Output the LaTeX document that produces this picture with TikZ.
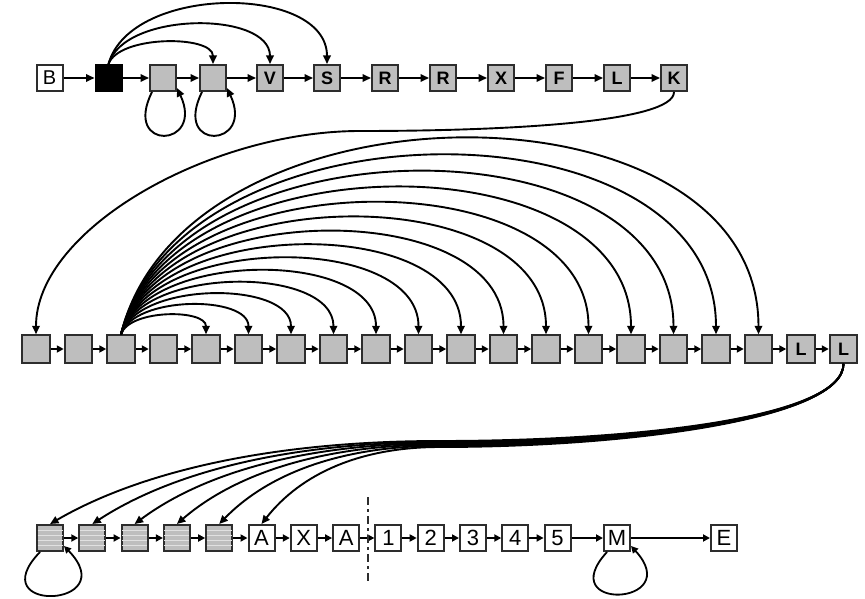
\documentclass[tikz,border=0pt]{standalone}
\usepackage{fontspec}
\setmainfont{Liberation Sans}
\usetikzlibrary{arrows.meta,calc}
\definecolor{boxgray}{RGB}{190,190,190}
\definecolor{edgecol}{RGB}{45,45,45}
\definecolor{stripecol}{RGB}{225,225,225}
\begin{document}
\begin{tikzpicture}[x=1pt,y=-1pt,
  box/.style={draw=edgecol, line width=2pt, minimum width=26pt, minimum height=26pt, inner sep=0pt},
  gbox/.style={box, fill=boxgray},
  wbox/.style={box, fill=white},
  bbox/.style={box, fill=black, draw=black},
  topfont/.style={font=\fontsize{18}{18}\selectfont\bfseries},
  botfont/.style={font=\fontsize{22}{22}\selectfont},
  arr/.style={-{Triangle[length=8.5pt,width=7.5pt]}, line width=1.9pt, draw=black},
  sarr/.style={-{Triangle[length=7pt,width=7pt]}, line width=1.8pt, draw=black},
  stripe/.style={draw=stripecol, line width=0.9pt}
]
\useasboundingbox (0,0) rectangle (865,599);

% ---------- Row 1 ----------
\node[wbox, font=\fontsize{20}{20}\selectfont] (b1) at (49.5,78) {B};
\node[bbox] (b2) at (108.5,78) {};
\node[gbox] (b3) at (163,78) {};
\node[gbox] (b4) at (213,78) {};
\node[gbox, topfont] (b5) at (270,78) {V};
\node[gbox, topfont] (b6) at (327,78) {S};
\node[gbox, topfont] (b7) at (385,78) {R};
\node[gbox, topfont] (b8) at (443,78) {R};
\node[gbox, topfont] (b9) at (501,78) {X};
\node[gbox, topfont] (b10) at (559,78) {F};
\node[gbox, topfont] (b11) at (617,78) {L};
\node[gbox, topfont] (b12) at (674,78) {K};

\foreach \i [evaluate=\i as \j using int(\i+1)] in {1,...,11}
  \draw[arr] (b\i) -- (b\j);

% arcs from the black box
\draw[arr] (b2.north) .. controls +(10.5,-29) and +(0,-29) .. (b4.north);
\draw[arr] (b2.north) .. controls +(16,-53) and +(0,-53) .. (b5.north);
\draw[arr] (b2.north) .. controls +(22,-80) and +(0,-80) .. (b6.north);

% self loops row 1
\draw[arr] ($(b3.south west)+(3,0)$) .. controls +(-30,60) and +(28,60) .. ($(b3.south east)+(0,-4)$);
\draw[arr] ($(b4.south west)+(3,0)$) .. controls +(-30,60) and +(28,60) .. ($(b4.south east)+(0,-4)$);

% ---------- Row 2 ----------
\foreach \i in {0,...,17}
  \node[gbox, minimum width=27.5pt, minimum height=27.5pt] (n\i) at ({36+42.5*\i},349) {};
\node[gbox, topfont, minimum width=27.5pt, minimum height=27.5pt] (n18) at ({36+42.5*18},349) {L};
\node[gbox, topfont, minimum width=27.5pt, minimum height=27.5pt] (n19) at ({36+42.5*19},349) {L};

\foreach \i [evaluate=\i as \j using int(\i+1)] in {0,...,18}
  \draw[sarr] (n\i) -- (n\j);

% K -> first box of row 2
\coordinate (kmid) at (360,131);
\draw[arr] (b12.south) .. controls +(0,30) and +(150,0) .. (kmid)
  .. controls +(-150,0) and +(0,-105) .. (n0.north);

% fan from third box
\foreach \j in {4,...,17} {
  \pgfmathsetmacro\dd{42.5*(\j-2)}
  \pgfmathsetmacro\hh{(0.21*\dd+0.00015*\dd*\dd)/0.75}
  \pgfmathsetmacro\cx{0.1*\dd}
  \draw[arr] (n2.north) .. controls +(\cx,-\hh) and +(0,-\hh) .. (n\j.north);
}

% ---------- Row 3 ----------
\foreach \i in {0,...,4} {
  \node[gbox] (s\i) at ({50+42.3*\i},538) {};
  \foreach \o in {-7.5,-2.5,2.5,7.5}
    \draw[stripe] ($(s\i.west)+(1.5,\o)$) -- ($(s\i.east)+(-1.5,\o)$);
}
\foreach \i/\l in {5/A,6/X,7/A,8/1,9/2,10/3,11/4,12/5}
  \node[wbox, botfont] (s\i) at ({50+42.3*\i},538) {\l};
\node[wbox, botfont] (sM) at (617,538) {M};
\node[wbox, botfont] (sE) at (724,538) {E};

\foreach \i [evaluate=\i as \j using int(\i+1)] in {0,...,11}
  \draw[sarr] (s\i) -- (s\j);
\draw[sarr] (s12) -- (sM);
\draw[sarr] (sM) -- (sE);

% separator
\coordinate (dtop) at (368,497);
\coordinate (dbot) at (368,584);
\draw[line width=1.8pt, draw=edgecol, dash pattern=on 8pt off 4pt on 3pt off 4pt] (dtop) -- (dbot);

% self loops row 3
\draw[sarr] ($(s0.south west)+(4,0)$) .. controls +(-60,62) and +(60,62) .. ($(s0.south east)+(0,-6)$);
\draw[sarr] ($(sM.south west)+(4,0)$) .. controls +(-55,60) and +(55,60) .. ($(sM.south east)+(0,-6)$);

% bundle from last L to row 3
\foreach \k in {0,...,5} {
  \pgfmathsetmacro\my{441+1.2*\k}
  \pgfmathsetmacro\dist{440-(50+42.3*\k)}
  \pgfmathsetmacro\ca{-0.45*\dist}
  \pgfmathsetmacro\cb{0.22*\dist}
  \draw[arr] (n19.south) .. controls +(0,55) and +(190,0) .. (440,\my)
     .. controls +(\ca,0) and +(\cb,-50) .. (s\k.north);
}
\end{tikzpicture}
\end{document}
